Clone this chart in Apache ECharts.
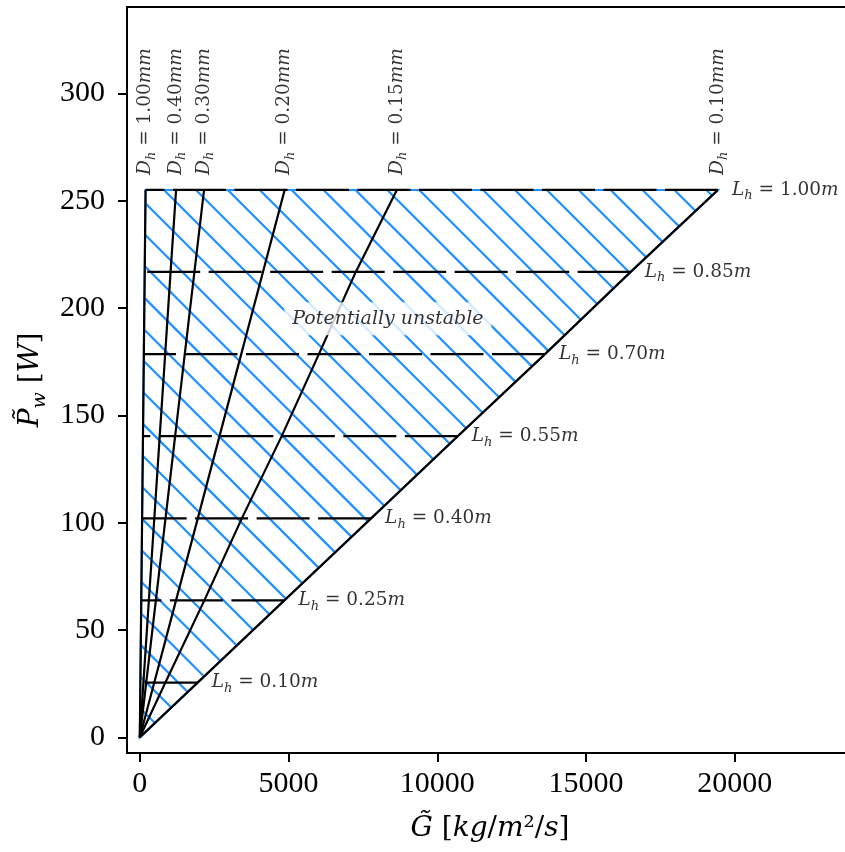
<!DOCTYPE html>
<html><head><meta charset="utf-8">
<script src="https://cdn.jsdelivr.net/npm/echarts@6/dist/echarts.min.js"></script>
<style>html,body{margin:0;padding:0;background:#fff}#c{width:845px;height:852px}</style>
</head><body><div id="c"></div>
<script>
// ---- data ----
const xTicks = [0, 5000, 10000, 15000, 20000];
const yTicks = [0, 50, 100, 150, 200, 250, 300];
// P_w levels of the L_h lines (with origin first)
const pwLevels = [0, 25.5, 63.8, 102.0, 140.3, 178.5, 216.8, 255.0];
const lhLabels = ['0.10', '0.25', '0.40', '0.55', '0.70', '0.85', '1.00'];
const lhPw = [25.5, 63.8, 102.0, 140.3, 178.5, 216.8, 255.0];
const lhGStart = [19, 49, 78, 107, 136, 165, 194];
const lhGEnd = [1945, 4860, 7775, 10690, 13620, 16500, 19435];
const dhLabels = ['1.00', '0.40', '0.30', '0.20', '0.15', '0.10'];
const dh100 = [0, 19, 49, 78, 107, 136, 165, 194];
const dh040 = [0, 122, 305, 488, 670, 853, 1035, 1220];
const dh030 = [0, 216, 540, 864, 1188, 1512, 1836, 2160];
const dh020 = [0, 487, 1218, 1950, 2680, 3410, 4140, 4870];
const dh015 = [0, 860, 2170, 3430, 4770, 6020, 7260, 8640];
const dh010 = [0, 1945, 4860, 7775, 10690, 13620, 16500, 19435];
const noteG = [8340];
const noteP = [195];
const noteText = ['Potentially unstable'];

// ---- styling ----
const SERIF = 'Liberation Serif';
const DV = 'DejaVu Serif';
const small = {
  i: { fontFamily: DV, fontStyle: 'italic', fontSize: 18.5, color: '#000' },
  n: { fontFamily: DV, fontSize: 18.5, color: '#000' },
  s: { fontFamily: DV, fontStyle: 'italic', fontSize: 13, color: '#000', padding: [12, 0, 0, 0] }
};
const big = {
  i: { fontFamily: DV, fontStyle: 'italic', fontSize: 28, color: '#000' },
  n: { fontFamily: DV, fontSize: 28, color: '#000' },
  s: { fontFamily: DV, fontStyle: 'italic', fontSize: 19, color: '#000', padding: [18, 0, 0, 0] }
};

const dhSets = [dh100, dh040, dh030, dh020, dh015, dh010];
const series = [];

// hatched region bounded by D_h=1.00 line, L_h=1.00 line and D_h=0.10 line
series.push({
  type: 'custom',
  z: 1,
  silent: true,
  data: [[0, 0]],
  renderItem: function (params, api) {
    const left = pwLevels.map((p, i) => api.coord([dh100[i], p]));
    const right = pwLevels.map((p, i) => api.coord([dh010[i], p])).reverse();
    const poly = left.concat(right.slice(0, right.length - 1));
    const n = poly.length;
    const vals = poly.map(p => p[0] - p[1]);
    const cmin = Math.min(...vals), cmax = Math.max(...vals);
    const tl = left[left.length - 1];
    const sp = 31.9;
    const phase = tl[0] - tl[1] + 18.5;
    const children = [{
      type: 'polygon', shape: { points: poly },
      style: { fill: '#fff', stroke: null }
    }];
    let k0 = Math.ceil((cmin - phase) / sp);
    for (let c = phase + k0 * sp; c <= cmax; c += sp) {
      const pts = [];
      for (let i = 0; i < n; i++) {
        const p1 = poly[i], p2 = poly[(i + 1) % n];
        const g1 = p1[0] - p1[1] - c, g2 = p2[0] - p2[1] - c;
        if (g1 === g2) continue;
        if (g1 * g2 <= 0) {
          const t = g1 / (g1 - g2);
          pts.push([p1[0] + t * (p2[0] - p1[0]), p1[1] + t * (p2[1] - p1[1])]);
        }
      }
      if (pts.length >= 2) {
        pts.sort((a, b) => a[0] - b[0]);
        children.push({
          type: 'line',
          shape: { x1: pts[0][0], y1: pts[0][1], x2: pts[pts.length - 1][0], y2: pts[pts.length - 1][1] },
          style: { stroke: '#1E90FF', lineWidth: 2.2 }
        });
      }
    }
    children.push({
      type: 'polygon', shape: { points: poly },
      style: { fill: null, stroke: '#1E90FF', lineWidth: 2 }
    });
    return { type: 'group', children: children };
  }
});

// L_h lines (dashed, drawn from right end to left end)
lhLabels.forEach((lab, i) => {
  series.push({
    type: 'line', z: 3, symbol: 'none', silent: true,
    data: [[lhGEnd[i], lhPw[i]], [lhGStart[i], lhPw[i]]],
    lineStyle: { color: '#000', width: 2.2, type: [53, 8.5] }
  });
});

// D_h lines
dhSets.forEach((arr, j) => {
  series.push({
    type: 'line', z: 4, symbol: 'none', silent: true,
    data: arr.map((g, i) => [g, pwLevels[i]]),
    lineStyle: { color: '#000', width: 2.2, type: 'solid' }
  });
});

// L_h labels
series.push({
  type: 'scatter', z: 6, symbolSize: 0, silent: true,
  data: lhLabels.map((lab, i) => [lhGEnd[i], lhPw[i], lab]),
  label: {
    show: true, position: 'right', distance: 14, color: '#000',
    formatter: p => '{i|L}{s|h}{n| = ' + p.value[2] + '}{i|m}',
    rich: small
  }
});

// D_h labels (rotated)
series.push({
  type: 'scatter', z: 6, symbolSize: 0, silent: true,
  data: dhLabels.map((lab, j) => [dhSets[j][dhSets[j].length - 1], pwLevels[pwLevels.length - 1], lab]),
  label: {
    show: true, position: 'top', distance: 15, rotate: 90, color: '#000',
    align: 'left', verticalAlign: 'middle',
    formatter: p => '{i|D}{s|h}{n| = ' + p.value[2] + '}{i|mm}',
    rich: small
  }
});

// annotation
series.push({
  type: 'scatter', z: 10, symbolSize: 0, silent: true,
  data: noteText.map((t, i) => [noteG[i], noteP[i], t]),
  label: {
    show: true, position: 'inside',
    formatter: p => p.value[2],
    fontFamily: DV, fontStyle: 'italic', fontSize: 19, color: '#000',
    backgroundColor: '#fff', padding: [7, 8]
  }
});

const chart = echarts.init(document.getElementById('c'), null, { renderer: 'canvas' });
chart.setOption({
  animation: false,
  backgroundColor: '#fff',
  grid: {
    left: 127, top: 7, width: 726, height: 746,
    show: true, borderColor: '#000', borderWidth: 2, backgroundColor: 'transparent',
    containLabel: false, outerBoundsMode: 'none'
  },
  xAxis: {
    type: 'value', min: -430, max: 23973,
    axisLine: { show: true, onZero: false, lineStyle: { color: '#000', width: 2 } },
    axisTick: { show: true, length: 9, lineStyle: { color: '#000', width: 2 }, customValues: xTicks },
    axisLabel: { customValues: xTicks, formatter: v => String(v), fontFamily: SERIF, fontSize: 30, color: '#000', margin: 16 },
    splitLine: { show: false },
    name: '{i|G̃}{n| [}{i|kg}{n|/}{i|m}{n|²/}{i|s}{n|]}',
    nameLocation: 'middle', nameGap: 62,
    nameTextStyle: { rich: big, color: '#000' }
  },
  yAxis: {
    type: 'value', min: -7.3, max: 340.2,
    axisLine: { show: true, onZero: false, lineStyle: { color: '#000', width: 2 } },
    axisTick: { show: true, length: 9, lineStyle: { color: '#000', width: 2 }, customValues: yTicks },
    axisLabel: { customValues: yTicks, formatter: v => String(v), fontFamily: SERIF, fontSize: 30, color: '#000', margin: 22 },
    splitLine: { show: false },
    name: '{i|P̃}{s|w}{n| [}{i|W}{n|]}',
    nameLocation: 'middle', nameGap: 76,
    nameTextStyle: { rich: big, color: '#000' }
  },
  series: series
});
</script>
</body></html>
